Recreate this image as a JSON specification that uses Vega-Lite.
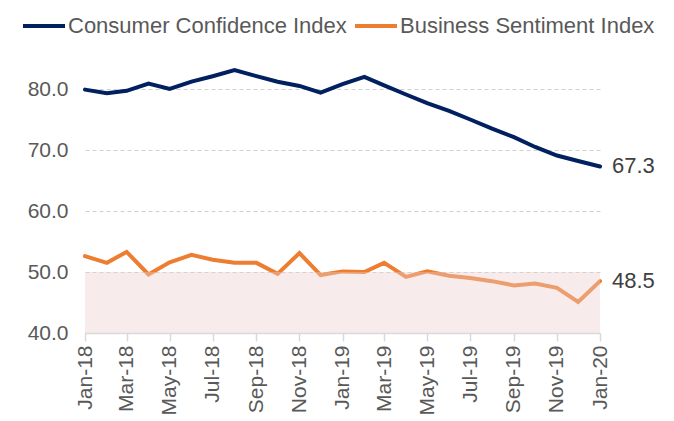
{
  "$schema": "https://vega.github.io/schema/vega-lite/v6.json",
  "autosize": "none",
  "width": 515,
  "height": 305,
  "padding": {"left": 85, "top": 28, "right": 74, "bottom": 88},
  "background": "white",
  "config": {
    "view": {"stroke": null},
    "font": "Liberation Sans"
  },
  "datasets": {
    "series": [
      {"date": "2018-01-01", "series": "Consumer Confidence Index", "value": 79.9},
      {"date": "2018-02-01", "series": "Consumer Confidence Index", "value": 79.3},
      {"date": "2018-03-01", "series": "Consumer Confidence Index", "value": 79.7},
      {"date": "2018-04-01", "series": "Consumer Confidence Index", "value": 80.9},
      {"date": "2018-05-01", "series": "Consumer Confidence Index", "value": 80.0},
      {"date": "2018-06-01", "series": "Consumer Confidence Index", "value": 81.2},
      {"date": "2018-07-01", "series": "Consumer Confidence Index", "value": 82.1},
      {"date": "2018-08-01", "series": "Consumer Confidence Index", "value": 83.1},
      {"date": "2018-09-01", "series": "Consumer Confidence Index", "value": 82.1},
      {"date": "2018-10-01", "series": "Consumer Confidence Index", "value": 81.2},
      {"date": "2018-11-01", "series": "Consumer Confidence Index", "value": 80.5},
      {"date": "2018-12-01", "series": "Consumer Confidence Index", "value": 79.4},
      {"date": "2019-01-01", "series": "Consumer Confidence Index", "value": 80.8},
      {"date": "2019-02-01", "series": "Consumer Confidence Index", "value": 82.0},
      {"date": "2019-03-01", "series": "Consumer Confidence Index", "value": 80.6},
      {"date": "2019-04-01", "series": "Consumer Confidence Index", "value": 79.1},
      {"date": "2019-05-01", "series": "Consumer Confidence Index", "value": 77.7},
      {"date": "2019-06-01", "series": "Consumer Confidence Index", "value": 76.4},
      {"date": "2019-07-01", "series": "Consumer Confidence Index", "value": 75.0},
      {"date": "2019-08-01", "series": "Consumer Confidence Index", "value": 73.5},
      {"date": "2019-09-01", "series": "Consumer Confidence Index", "value": 72.1},
      {"date": "2019-10-01", "series": "Consumer Confidence Index", "value": 70.5},
      {"date": "2019-11-01", "series": "Consumer Confidence Index", "value": 69.1},
      {"date": "2019-12-01", "series": "Consumer Confidence Index", "value": 68.2},
      {"date": "2020-01-01", "series": "Consumer Confidence Index", "value": 67.3},
      {"date": "2018-01-01", "series": "Business Sentiment Index", "value": 52.6},
      {"date": "2018-02-01", "series": "Business Sentiment Index", "value": 51.5},
      {"date": "2018-03-01", "series": "Business Sentiment Index", "value": 53.3},
      {"date": "2018-04-01", "series": "Business Sentiment Index", "value": 49.6},
      {"date": "2018-05-01", "series": "Business Sentiment Index", "value": 51.6},
      {"date": "2018-06-01", "series": "Business Sentiment Index", "value": 52.8},
      {"date": "2018-07-01", "series": "Business Sentiment Index", "value": 52.0},
      {"date": "2018-08-01", "series": "Business Sentiment Index", "value": 51.5},
      {"date": "2018-09-01", "series": "Business Sentiment Index", "value": 51.5},
      {"date": "2018-10-01", "series": "Business Sentiment Index", "value": 49.7},
      {"date": "2018-11-01", "series": "Business Sentiment Index", "value": 53.1},
      {"date": "2018-12-01", "series": "Business Sentiment Index", "value": 49.5},
      {"date": "2019-01-01", "series": "Business Sentiment Index", "value": 50.1},
      {"date": "2019-02-01", "series": "Business Sentiment Index", "value": 50.0},
      {"date": "2019-03-01", "series": "Business Sentiment Index", "value": 51.5},
      {"date": "2019-04-01", "series": "Business Sentiment Index", "value": 49.2},
      {"date": "2019-05-01", "series": "Business Sentiment Index", "value": 50.1},
      {"date": "2019-06-01", "series": "Business Sentiment Index", "value": 49.4},
      {"date": "2019-07-01", "series": "Business Sentiment Index", "value": 49.0},
      {"date": "2019-08-01", "series": "Business Sentiment Index", "value": 48.5},
      {"date": "2019-09-01", "series": "Business Sentiment Index", "value": 47.8},
      {"date": "2019-10-01", "series": "Business Sentiment Index", "value": 48.1},
      {"date": "2019-11-01", "series": "Business Sentiment Index", "value": 47.4},
      {"date": "2019-12-01", "series": "Business Sentiment Index", "value": 45.1},
      {"date": "2020-01-01", "series": "Business Sentiment Index", "value": 48.5}
    ],
    "band": [
      {"start": "2018-01-01", "end": "2020-01-01", "low": 40, "high": 50}
    ]
  },
  "layer": [
    {
      "data": {"name": "series"},
      "mark": {"type": "line", "strokeWidth": 4, "strokeCap": "round", "strokeJoin": "miter"},
      "encoding": {
        "x": {
          "field": "date", "type": "temporal", "timeUnit": "utcyearmonth",
          "scale": {"type": "utc", "domain": [{"year": 2018, "month": 1, "date": 1, "utc": true}, {"year": 2020, "month": 1, "date": 1, "utc": true}]},
          "axis": {
            "title": null,
            "format": "%b-%y",
            "tickCount": {"interval": "month", "step": 2},
            "labelAngle": 270,
            "labelFontSize": 21,
            "labelColor": "#595959",
            "labelPadding": 4,
            "domainColor": "#d9d9d9",
            "domainWidth": 1.5,
            "tickColor": "#d9d9d9",
            "tickSize": 8,
            "tickWidth": 1.5,
            "grid": false
          }
        },
        "y": {
          "field": "value", "type": "quantitative",
          "scale": {"domain": [40, 90], "nice": false, "zero": false},
          "axis": {
            "title": null,
            "values": [40, 50, 60, 70, 80],
            "format": ".1f",
            "labelFontSize": 21,
            "labelColor": "#595959",
            "labelPadding": 17,
            "ticks": false,
            "domain": false,
            "grid": true,
            "gridColor": "#d0d0d0",
            "gridDash": [4, 3],
            "gridWidth": 1
          }
        },
        "color": {
          "field": "series", "type": "nominal",
          "scale": {"domain": ["Consumer Confidence Index", "Business Sentiment Index"], "range": ["#002060", "#ed7d31"]},
          "legend": {
            "title": null,
            "orient": "none",
            "legendX": -64,
            "legendY": -25,
            "direction": "horizontal",
            "symbolType": "stroke",
            "symbolSize": 1764,
            "symbolStrokeWidth": 4,
            "labelFontSize": 22,
            "labelColor": "#595959",
            "labelOffset": 1,
            "columnPadding": 0,
            "labelLimit": 400
          }
        }
      }
    },
    {
      "data": {"name": "band"},
      "mark": {"type": "rect", "color": "#ecd0cd", "opacity": 0.4},
      "encoding": {
        "x": {"field": "start", "type": "temporal", "timeUnit": "utcyearmonth"},
        "x2": {"field": "end", "timeUnit": "utcyearmonth"},
        "y": {"field": "low", "type": "quantitative"},
        "y2": {"field": "high"}
      }
    },
    {
      "data": {"name": "series"},
      "transform": [{"filter": "utcyear(datum.date) == 2020"}],
      "mark": {"type": "text", "align": "left", "baseline": "middle", "dx": 12, "fontSize": 22, "color": "#404040"},
      "encoding": {
        "x": {"field": "date", "type": "temporal", "timeUnit": "utcyearmonth"},
        "y": {"field": "value", "type": "quantitative"},
        "text": {"field": "value", "type": "quantitative", "format": ".1f"}
      }
    }
  ]
}
